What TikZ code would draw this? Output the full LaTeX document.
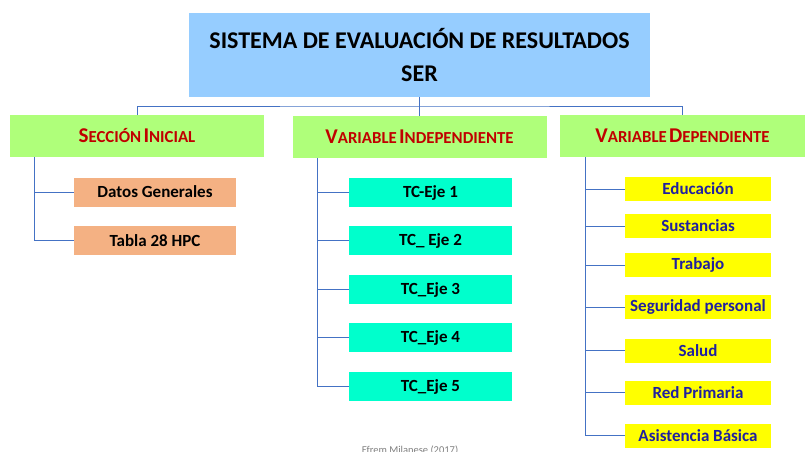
\documentclass[tikz,border=0pt]{standalone}
\usepackage{fontspec}
\setmainfont{Carlito}
\definecolor{topblue}{RGB}{150,205,255}
\definecolor{lgreen}{RGB}{175,255,122}
\definecolor{lorange}{RGB}{244,177,131}
\definecolor{lcyan}{RGB}{0,255,204}
\definecolor{lyellow}{RGB}{255,255,0}
\definecolor{darkred}{RGB}{192,0,0}
\definecolor{navytxt}{RGB}{32,32,160}
\definecolor{linkblue}{RGB}{68,114,196}
\newcommand\fsc[2]{{\fontsize{21}{21}\selectfont #1}{\fontsize{16.8}{16.8}\selectfont #2}}
\begin{document}
\begin{tikzpicture}[x=1pt,y=-1pt,
  box/.style={inner sep=0pt,outer sep=0pt,font=\bfseries,align=center},
  topbox/.style={box,fill=topblue,minimum width=461pt,minimum height=84pt,font=\fontsize{24}{33}\selectfont\bfseries},
  headbox/.style={box,fill=lgreen,minimum height=42pt,text=darkred},
  orbox/.style={box,fill=lorange,minimum width=162pt,minimum height=29pt,font=\fontsize{17}{17}\selectfont\bfseries},
  cybox/.style={box,fill=lcyan,minimum width=163pt,minimum height=29pt,font=\fontsize{17}{17}\selectfont\bfseries},
  yebox/.style={box,fill=lyellow,minimum width=146pt,minimum height=24pt,text=navytxt,font=\fontsize{17}{17}\selectfont\bfseries},
  link/.style={draw=linkblue,line width=0.9pt}]
\useasboundingbox (0,0) rectangle (806,452);
\fill[white] (0,0) rectangle (806,452);
% top
\node[topbox] (top) at (419.5,55) {SISTEMA DE EVALUACIÓN DE RESULTADOS\\SER};
% heads
\node[headbox,minimum width=254pt] (g1) at (137,136) {\fsc{S}{ECCIÓN} \fsc{I}{NICIAL}};
\node[headbox,minimum width=254pt] (g2) at (419.5,137) {\fsc{V}{ARIABLE} \fsc{I}{NDEPENDIENTE}};
\node[headbox,minimum width=245pt] (g3) at (682.5,136) {\fsc{V}{ARIABLE} \fsc{D}{EPENDIENTE}};
\coordinate (hub) at (419.5,106);
\draw[link] (top.south) -- (hub);
\draw[link] (g1.north) |- (hub) -| (g3.north);
\draw[link] (hub) -- (g2.north);
% left
\node[orbox] (o1) at (155,192) {Datos Generales};
\node[orbox] (o2) at (155,240.5) {Tabla 28 HPC};
\coordinate (l0) at ([xshift=24.5pt]g1.south west);
\draw[link] (l0) |- (o1.west);
\draw[link] (l0) |- (o2.west);
% middle
\node[cybox] (c1) at (430.5,192.5) {TC-Eje 1};
\node[cybox] (c2) at (430.5,240.5) {TC\_ Eje 2};
\node[cybox] (c3) at (430.5,289.5) {TC\_Eje 3};
\node[cybox] (c4) at (430.5,337.5) {TC\_Eje 4};
\node[cybox] (c5) at (430.5,386.5) {TC\_Eje 5};
\coordinate (m0) at ([xshift=25pt]g2.south west);
\foreach \n in {c1,c2,c3,c4,c5} \draw[link] (m0) |- (\n.west);
% right
\node[yebox] (y1) at (698,189) {Educación};
\node[yebox] (y2) at (698,226) {Sustancias};
\node[yebox] (y3) at (698,265) {Trabajo};
\node[yebox] (y4) at (698,307) {Seguridad personal};
\node[yebox] (y5) at (698,350.5) {Salud};
\node[yebox] (y6) at (698,392.5) {Red Primaria};
\node[yebox] (y7) at (698,435.5) {Asistencia Básica};
\coordinate (r0) at ([xshift=25pt]g3.south west);
\foreach \n in {y1,y2,y3,y4,y5,y6,y7} \draw[link] (r0) |- (\n.west);
% footer
\node[inner sep=0pt,anchor=north,text=gray,font=\fontsize{10.5}{10.5}\selectfont] (foot) at (410,445.5) {Efrem Milanese (2017)};
\end{tikzpicture}
\end{document}
